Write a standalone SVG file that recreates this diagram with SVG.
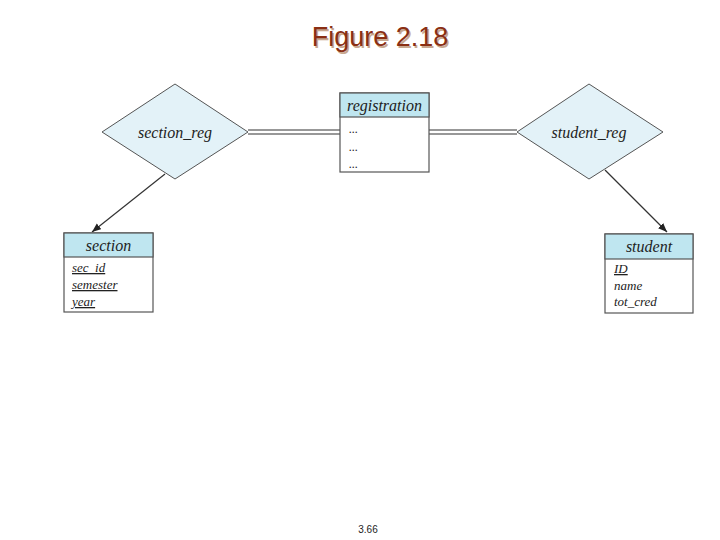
<svg xmlns="http://www.w3.org/2000/svg" width="720" height="540" viewBox="0 0 720 540">
<defs>
<marker id="ah" viewBox="0 0 10 10" refX="10" refY="5" markerWidth="9" markerHeight="9" orient="auto" markerUnits="userSpaceOnUse"><path d="M0,1 L10,5 L0,9 z" fill="#222"/></marker>
</defs>
<style>
.box{fill:#fff;stroke:#555;stroke-width:1.2}
.hd{fill:#bfe6f0;stroke:#555;stroke-width:1.2}
.dia{fill:#e3f2f8;stroke:#555;stroke-width:1}
.t{font-family:"Liberation Serif",serif;font-style:italic;fill:#222}
.ln{stroke:#333;stroke-width:1.2;fill:none}
</style>
<rect width="720" height="540" fill="#fff"/>
<text x="380" y="46" text-anchor="middle" font-family="Liberation Sans,Arial,sans-serif" font-size="27" fill="#c8a890" transform="translate(1.5,1.5)">Figure 2.18</text>
<text x="380" y="46" text-anchor="middle" font-family="Liberation Sans,Arial,sans-serif" font-size="27" fill="#8a2f14">Figure 2.18</text>
<g id="connectors">
<path class="ln" d="M248,130 H340 M248,134 H340 M429,130 H517 M429,134 H517"/>
<path class="ln" d="M165,174 L92,232" marker-end="url(#ah)"/>
<path class="ln" d="M605,170 L667,232" marker-end="url(#ah)"/>
</g>
<g id="section_reg">
<polygon class="dia" points="102,132 175,84 248,132 175,179"/>
<text class="t" x="175" y="138" text-anchor="middle" font-size="16">section_reg</text>
</g>
<g id="student_reg">
<polygon class="dia" points="517,132 589,84 663,132 589,179"/>
<text class="t" x="589" y="138" text-anchor="middle" font-size="16">student_reg</text>
</g>
<g id="registration">
<rect class="box" x="340" y="93" width="89" height="79"/>
<rect class="hd" x="340" y="93" width="89" height="24"/>
<text class="t" x="384.5" y="111" text-anchor="middle" font-size="16">registration</text>
<text class="t" x="349" y="133" font-size="12">...</text>
<text class="t" x="349" y="151" font-size="12">...</text>
<text class="t" x="349" y="168" font-size="12">...</text>
</g>
<g id="section">
<rect class="box" x="64" y="233" width="89" height="79"/>
<rect class="hd" x="64" y="233" width="89" height="24"/>
<text class="t" x="108.5" y="251" text-anchor="middle" font-size="16">section</text>
<text class="t" x="72" y="272" font-size="13" text-decoration="underline">sec_id</text>
<text class="t" x="72" y="289" font-size="13" text-decoration="underline">semester</text>
<text class="t" x="72" y="306" font-size="13" text-decoration="underline">year</text>
</g>
<g id="student">
<rect class="box" x="605" y="234" width="88" height="79"/>
<rect class="hd" x="605" y="234" width="88" height="25"/>
<text class="t" x="649" y="252" text-anchor="middle" font-size="16">student</text>
<text class="t" x="614" y="273" font-size="13" text-decoration="underline">ID</text>
<text class="t" x="614" y="290" font-size="13">name</text>
<text class="t" x="614" y="306" font-size="13">tot_cred</text>
</g>
<text x="368" y="533" text-anchor="middle" font-family="Liberation Sans,Arial,sans-serif" font-size="10" fill="#222">3.66</text>
</svg>
